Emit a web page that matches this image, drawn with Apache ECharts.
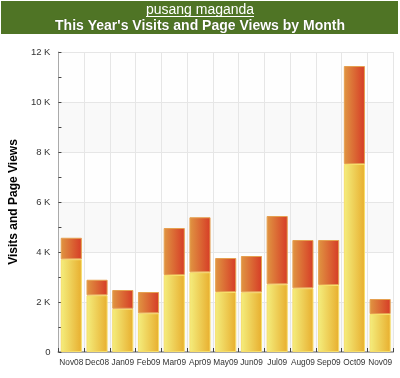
<!DOCTYPE html>
<html><head><meta charset="utf-8">
<script src="https://cdn.jsdelivr.net/npm/echarts@6/dist/echarts.min.js"></script>
<style>html,body{margin:0;padding:0;background:#fff}#c{width:400px;height:378px}</style>
</head><body><div id="c"></div>
<script>
const categories = ['Nov08','Dec08','Jan09','Feb09','Mar09','Apr09','May09','Jun09','Jul09','Aug09','Sep09','Oct09','Nov09'];
// visits (lower segment) in thousands
const visits = [3.71, 2.27, 1.73, 1.55, 3.08, 3.19, 2.40, 2.39, 2.71, 2.55, 2.68, 7.52, 1.52];
// page views total in thousands (top of stacked bar)
const pageViewsTotal = [4.57, 2.89, 2.48, 2.40, 4.96, 5.39, 3.76, 3.84, 5.44, 4.48, 4.48, 11.44, 2.12];
const yTicks = [0, 2, 4, 6, 8, 10, 12];
const titleSub = 'pusang maganda';
const titleMain = "This Year's Visits and Page Views by Month";
const yName = 'Visits and Page Views';

const topPart = pageViewsTotal.map((t, i) => +(t - visits[i]).toFixed(2));
const font = '"Liberation Sans", Arial, sans-serif';

const chart = echarts.init(document.getElementById('c'), null, {renderer: 'canvas'});
chart.setOption({
  animation: false,
  backgroundColor: '#fff',
  graphic: [
    {type: 'rect', shape: {x: 1, y: 1, width: 397, height: 33}, style: {fill: '#4f7425'}, z: 0},
    {type: 'line', shape: {x1: 146, y1: 16.5, x2: 254, y2: 16.5}, style: {stroke: '#fff', lineWidth: 1}, z: 2}
  ],
  title: [
    {text: titleSub, left: 'center', top: 3, padding: 0,
     textStyle: {color: '#fff', fontSize: 14, fontWeight: 'normal', fontFamily: font}},
    {text: titleMain, left: 'center', top: 19, padding: 0,
     textStyle: {color: '#fff', fontSize: 14, fontWeight: 'bold', fontFamily: font,
       textShadowColor: 'rgba(0,0,0,0.5)', textShadowBlur: 1, textShadowOffsetX: 0, textShadowOffsetY: 0}}
  ],
  grid: {left: 46, right: 7, top: 52, bottom: 26, containLabel: false},
  xAxis: {
    type: 'category', data: categories, boundaryGap: true,
    axisLine: {lineStyle: {color: '#aaa', width: 2}},
    axisTick: {show: true, inside: true, length: 4, lineStyle: {color: '#444'}},
    axisLabel: {color: '#333', fontSize: 8.3, fontFamily: font, margin: 7, interval: 0},
    splitLine: {show: true, lineStyle: {color: '#e6e6e6', width: 1}}
  },
  yAxis: {
    type: 'value', min: 0, max: 12, interval: 2,
    name: yName, nameLocation: 'middle', nameGap: 31,
    nameTextStyle: {color: '#000', fontSize: 12, fontWeight: 'bold', fontFamily: font},
    axisLine: {show: true, lineStyle: {color: '#aaa', width: 1}},
    axisTick: {show: true, inside: true, length: 3, lineStyle: {color: '#444'}},
    minorTick: {show: true, splitNumber: 2, length: 3, lineStyle: {color: '#444'}},
    axisLabel: {color: '#333', fontSize: 9.5, fontFamily: font, margin: 8,
      formatter: v => yTicks.includes(v) ? (v === 0 ? '0' : v + ' K') : ''},
    splitLine: {show: true, lineStyle: {color: '#e6e6e6', width: 1}},
    splitArea: {show: true, areaStyle: {color: ['#f9f9f9', '#fefefe']}}
  },
  series: [
    {type: 'bar', name: 'Visits', stack: 's', data: visits, barCategoryGap: '18%',
     itemStyle: {
       color: new echarts.graphic.LinearGradient(0, 0, 1, 0, [
         {offset: 0, color: '#f4ee7e'}, {offset: 1, color: '#e8ae2e'}]),
       borderColor: '#f7de6a', borderWidth: 1}},
    {type: 'bar', name: 'Page Views', stack: 's', data: topPart, barCategoryGap: '18%',
     itemStyle: {
       color: new echarts.graphic.LinearGradient(0, 0, 1, 0, [
         {offset: 0, color: '#e09642'}, {offset: 1, color: '#d63b26'}]),
       borderColor: '#e5a050', borderWidth: 1}}
  ]
});
</script></body></html>
